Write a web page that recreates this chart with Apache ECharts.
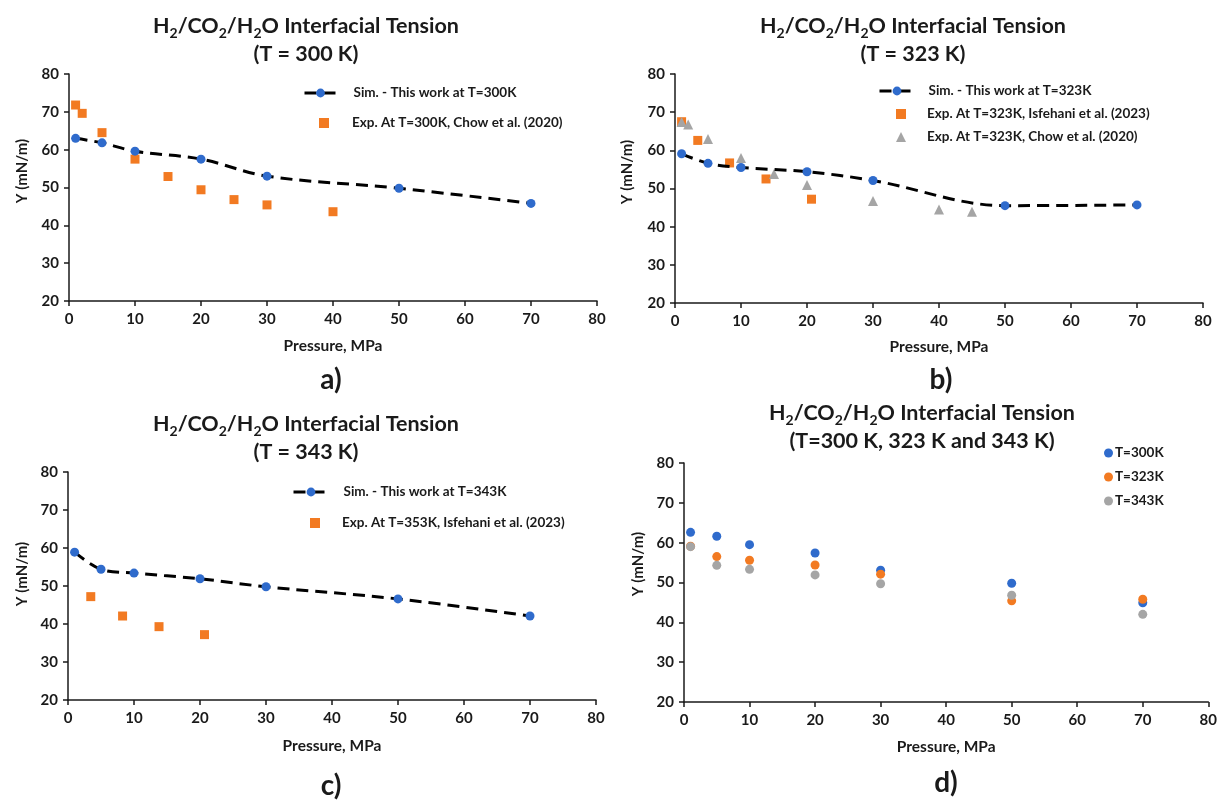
<!DOCTYPE html>
<html>
<head>
<meta charset="utf-8">
<title>H2/CO2/H2O Interfacial Tension</title>
<script src="https://cdn.jsdelivr.net/npm/echarts@6/dist/echarts.min.js"></script>
<style>
  html, body { margin: 0; padding: 0; background: #ffffff; }
  #chart { width: 1220px; height: 800px; }
</style>
</head>
<body>
<div id="chart"></div>
<script>
// Axis ticks shared by all four panels
const pressureTicks = [0, 10, 20, 30, 40, 50, 60, 70, 80];
const tensionTicks = [20, 30, 40, 50, 60, 70, 80];

// Simulation pressures (MPa)
const simPressure = [1, 5, 10, 20, 30, 50, 70];

// (a) T = 300 K
const sim300 = [63.0, 61.8, 59.6, 57.5, 53.0, 49.8, 45.8];
const chow300Pressure = [1, 2, 5, 10, 15, 20, 25, 30, 40];
const chow300 = [71.8, 69.6, 64.5, 57.5, 52.9, 49.4, 46.8, 45.4, 43.6];

// (b) T = 323 K
const sim323 = [59.1, 56.6, 55.5, 54.4, 52.1, 45.5, 45.7];
const isf323Pressure = [1.0, 3.45, 8.27, 13.79, 20.68];
const isf323 = [67.5, 62.6, 56.7, 52.5, 47.2];
const chow323Pressure = [1, 2, 5, 10, 15, 20, 30, 40, 45];
const chow323 = [67.4, 66.8, 63.0, 58.0, 53.8, 50.9, 46.7, 44.5, 43.9];

// (c) T = 343 K
const sim343 = [58.9, 54.4, 53.4, 51.9, 49.8, 46.6, 42.1];
const isf353Pressure = [3.45, 8.27, 13.79, 20.68];
const isf353 = [47.2, 42.1, 39.3, 37.2];

// (d) all three temperatures
const all300 = [62.6, 61.6, 59.5, 57.4, 53.1, 49.8, 44.9];
const all323 = [59.1, 56.5, 55.6, 54.4, 52.1, 45.4, 45.8];
const all343 = [59.0, 54.3, 53.3, 51.9, 49.7, 46.8, 42.0];

const FONT = 'Lato, "Open Sans", sans-serif';
const INK = '#1a1a1a';
const BLUE = '#2f6bcc';
const ORANGE = '#f27a22';
const GRAY = '#a5a5a5';

const pairs = (xs, ys) => xs.map((x, i) => [x, ys[i]]);

// plot rectangles of the four panels
const grids = [
  { left: 69, top: 74, width: 528, height: 227 },
  { left: 675, top: 74, width: 528, height: 229 },
  { left: 68, top: 472, width: 528, height: 228 },
  { left: 684, top: 463, width: 528, height: 239 }
];

const nameGaps = [37, 36, 38, 37];

const xAxes = grids.map((g, i) => ({
  type: 'value',
  gridIndex: i,
  min: pressureTicks[0],
  max: pressureTicks[pressureTicks.length - 1],
  interval: pressureTicks[1] - pressureTicks[0],
  name: 'Pressure, MPa',
  nameLocation: 'middle',
  nameGap: nameGaps[i],
  nameTextStyle: { fontFamily: FONT, fontWeight: 'bold', fontSize: 15.5, color: INK },
  axisLine: { lineStyle: { color: INK, width: 1.5 } },
  axisTick: { show: true, length: 5, lineStyle: { color: INK, width: 1.5 } },
  axisLabel: { fontFamily: FONT, fontWeight: 'bold', fontSize: 15, color: INK, margin: 11 },
  splitLine: { show: false }
}));

const yAxes = grids.map((g, i) => ({
  type: 'value',
  gridIndex: i,
  min: tensionTicks[0],
  max: tensionTicks[tensionTicks.length - 1],
  interval: tensionTicks[1] - tensionTicks[0],
  axisLine: { show: true, lineStyle: { color: INK, width: 1.5 } },
  axisTick: { show: true, length: 5, lineStyle: { color: INK, width: 1.5 } },
  axisLabel: { fontFamily: FONT, fontWeight: 'bold', fontSize: 15, color: INK, margin: 10 },
  splitLine: { show: false }
}));

const richTitle = {
  n: { fontFamily: FONT, fontWeight: 'bold', fontSize: 21.5, color: INK, lineHeight: 28 },
  s: { fontFamily: FONT, fontWeight: 'bold', fontSize: 14, color: INK, lineHeight: 15, verticalAlign: 'bottom' }
};
const formula = '{n|H}{s|2}{n|/CO}{s|2}{n|/H}{s|2}{n|O Interfacial Tension}';
function makeTitle(sub, x, y) {
  return {
    text: formula + '\n{n|' + sub + '}',
    left: x, top: y, textAlign: 'center', padding: 0,
    textStyle: { rich: richTitle }
  };
}

const legendText = (pad) => ({
  fontFamily: FONT, fontWeight: 'bold', fontSize: 13.5, color: INK, lineHeight: 14,
  padding: [0, 0, 0, pad]
});

// line entries get a wide dashed icon, marker entries a small square one
function lineLegend(name, left, top, width, pad) {
  return {
    left, top, orient: 'vertical', padding: 0,
    itemWidth: width, itemHeight: 11,
    lineStyle: { color: '#000', width: 3 },
    textStyle: legendText(pad), data: [name]
  };
}
function markerLegend(names, left, top, gap, pad, size) {
  return {
    left, top, orient: 'vertical', padding: 0, itemGap: gap,
    itemWidth: size, itemHeight: size,
    textStyle: legendText(pad), data: names
  };
}

const simLine = (name, data, xi) => ({
  name, type: 'line', xAxisIndex: xi, yAxisIndex: xi,
  data, smooth: 0.35, symbol: 'circle', symbolSize: 9,
  lineStyle: { color: '#000', width: 3, type: [12, 7] },
  itemStyle: { color: BLUE, opacity: 1 }, z: 3
});
const scatter = (name, data, xi, symbol, color, size) => ({
  name, type: 'scatter', xAxisIndex: xi, yAxisIndex: xi,
  data, symbol, symbolSize: size, itemStyle: { color, opacity: 1 }, z: 2
});

const option = {
  backgroundColor: '#ffffff',
  animation: false,
  title: [
    makeTitle('(T = 300 K)', 306, 12),
    makeTitle('(T = 323 K)', 913, 12),
    makeTitle('(T = 343 K)', 306, 410),
    makeTitle('(T=300 K, 323 K and 343 K)', 922, 399)
  ],
  grid: grids,
  xAxis: xAxes,
  yAxis: yAxes,
  legend: [
    lineLegend('Sim. - This work at T=300K', 303, 86, 32, 12),
    markerLegend(['Exp. At T=300K, Chow et al. (2020)'], 319, 116, 16, 18, 10),

    lineLegend('Sim. - This work at T=323K', 878, 84, 35, 9),
    markerLegend(['Exp. At T=323K, Isfehani et al. (2023)', 'Exp. At T=323K, Chow et al. (2020)'], 896, 107, 9, 16, 10),

    lineLegend('Sim. - This work at T=343K', 292, 485, 35, 10),
    markerLegend(['Exp. At T=353K, Isfehani et al. (2023)'], 310, 516, 17, 17, 10),

    markerLegend(['T=300K', 'T=323K', 'T=343K'], 1104, 446, 10, -3, 9)
  ],
  series: [
    simLine('Sim. - This work at T=300K', pairs(simPressure, sim300), 0),
    scatter('Exp. At T=300K, Chow et al. (2020)', pairs(chow300Pressure, chow300), 0, 'rect', ORANGE, 9),

    simLine('Sim. - This work at T=323K', pairs(simPressure, sim323), 1),
    scatter('Exp. At T=323K, Isfehani et al. (2023)', pairs(isf323Pressure, isf323), 1, 'rect', ORANGE, 9),
    scatter('Exp. At T=323K, Chow et al. (2020)', pairs(chow323Pressure, chow323), 1, 'triangle', GRAY, 10),

    simLine('Sim. - This work at T=343K', pairs(simPressure, sim343), 2),
    scatter('Exp. At T=353K, Isfehani et al. (2023)', pairs(isf353Pressure, isf353), 2, 'rect', ORANGE, 9),

    scatter('T=300K', pairs(simPressure, all300), 3, 'circle', BLUE, 9),
    scatter('T=323K', pairs(simPressure, all323), 3, 'circle', ORANGE, 9),
    scatter('T=343K', pairs(simPressure, all343), 3, 'circle', GRAY, 9)
  ],
  graphic: [
    // rotated y-axis names
    ...[[22, 171], [627, 172], [22, 574], [638, 564]].map(([x, y]) => ({
      type: 'text', x, y, rotation: Math.PI / 2,
      style: { text: 'Y (mN/m)', align: 'center', verticalAlign: 'middle',
               font: 'bold 15px ' + FONT, fill: INK }
    })),
    // panel letters
    ...[['a)', 331, 380], ['b)', 941, 380], ['c)', 331, 786], ['d)', 946, 783]].map(([t, x, y]) => ({
      type: 'text', x, y,
      style: { text: t, align: 'center', verticalAlign: 'middle',
               font: 'bold 28px ' + FONT, fill: INK }
    }))
  ]
};

const chart = echarts.init(document.getElementById('chart'), null, { renderer: 'canvas' });
chart.setOption(option);
</script>
</body>
</html>
